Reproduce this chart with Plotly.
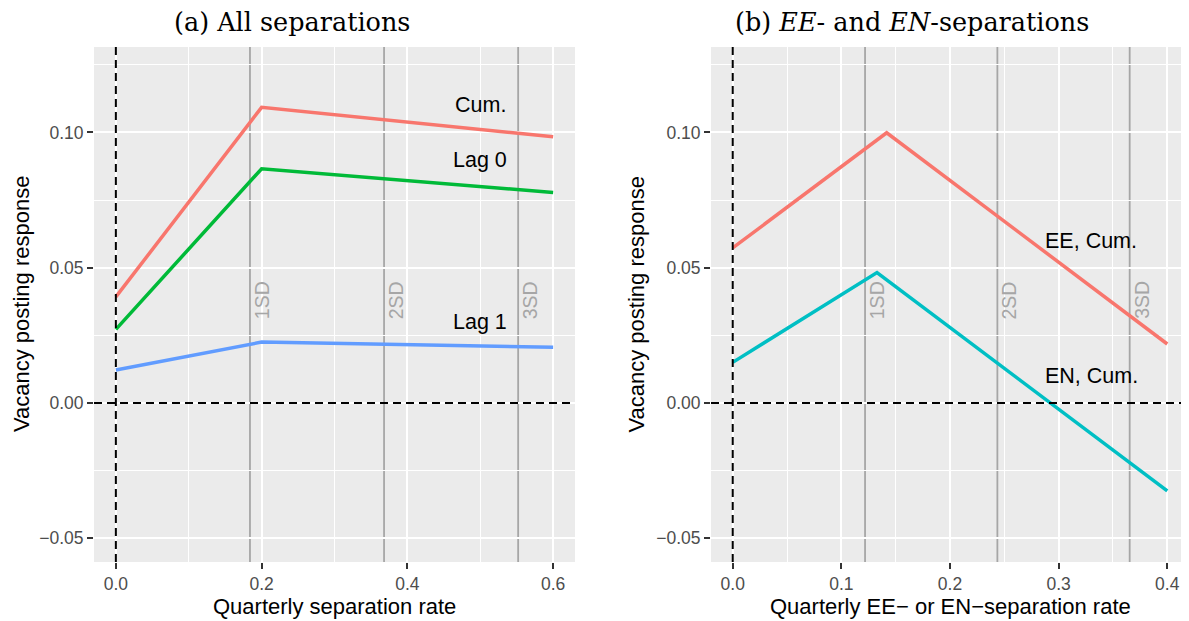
import plotly.graph_objects as go

# ---------------- data ----------------
sep_x = [0.0, 0.2, 0.6]
cum = [0.0392, 0.1093, 0.0984]
lag0 = [0.0272, 0.0866, 0.0778]
lag1 = [0.0122, 0.0225, 0.0206]

ee_x = [0.0, 0.1417, 0.4]
ee_cum = [0.0573, 0.0999, 0.0218]
en_x = [0.0, 0.1328, 0.4]
en_cum = [0.0150, 0.0482, -0.0325]

sd_all = [0.184, 0.368, 0.552]
sd_eeen = [0.1218, 0.2436, 0.3654]
sd_labels = ["1SD", "2SD", "3SD"]
sd_label_y = 0.038

labels_a = ["Cum.", "Lag 0", "Lag 1"]
labels_a_x = [0.5, 0.5, 0.5]
labels_a_y = [0.11, 0.09, 0.03]
labels_b = ["EE, Cum.", "EN, Cum."]
labels_b_x = [0.33, 0.33]
labels_b_y = [0.06, 0.01]

ref_zero = 0.0

x_ticks_a = [0.0, 0.2, 0.4, 0.6]
x_ticks_b = [0.0, 0.1, 0.2, 0.3, 0.4]
y_ticks = [-0.05, 0.0, 0.05, 0.10]
y_ticktext = ["\u22120.05", "0.00", "0.05", "0.10"]

titles = ["(a) All separations", "(b) <i>EE</i>- and <i>EN</i>-separations"]
x_titles = ["Quarterly separation rate", "Quarterly EE\u2212 or EN\u2212separation rate"]
y_title = "Vacancy posting response"

RED, GREEN, BLUE, CYAN = "#F8766D", "#00BA38", "#619CFF", "#00BFC4"
SD_GRAY = "#A6A6A6"
OFF = 8  # page body margin
W, H = 1189 - OFF, 621 - OFF
FONT = "Liberation Sans, Arial, sans-serif"

def px(v):
    return v - OFF

fig = go.Figure()

def add_line(x, y, color, xa, ya):
    fig.add_trace(go.Scatter(x=x, y=y, mode="lines", xaxis=xa, yaxis=ya,
                             line=dict(color=color, width=3.5), showlegend=False,
                             hoverinfo="skip"))

add_line(sep_x, cum, RED, "x", "y")
add_line(sep_x, lag0, GREEN, "x", "y")
add_line(sep_x, lag1, BLUE, "x", "y")
add_line(ee_x, ee_cum, RED, "x2", "y2")
add_line(en_x, en_cum, CYAN, "x2", "y2")

# SD vertical lines + labels
for sds, xr, yr in [(sd_all, "x", "y"), (sd_eeen, "x2", "y2")]:
    for v, lab in zip(sds, sd_labels):
        fig.add_shape(type="line", xref=xr, yref=yr + " domain", x0=v, x1=v, y0=0, y1=1,
                      line=dict(color=SD_GRAY, width=1.8), layer="below")
        fig.add_annotation(x=v, y=sd_label_y, xref=xr, yref=yr, text=lab, showarrow=False,
                           textangle=-90, xshift=12, font=dict(family=FONT, size=19.5, color=SD_GRAY))
    # dashed zero lines
    fig.add_shape(type="line", xref=xr, yref=yr + " domain", x0=ref_zero, x1=ref_zero, y0=0, y1=1,
                  line=dict(color="black", width=2, dash="8px,5px"), layer="above")
    fig.add_shape(type="line", xref=xr + " domain", yref=yr, x0=0, x1=1, y0=ref_zero, y1=ref_zero,
                  line=dict(color="black", width=2, dash="8px,5px"), layer="above")

for t, x, y in zip(labels_a, labels_a_x, labels_a_y):
    fig.add_annotation(x=x, y=y, xref="x", yref="y", text=t, showarrow=False,
                       font=dict(family=FONT, size=21.5, color="black"))
for t, x, y in zip(labels_b, labels_b_x, labels_b_y):
    fig.add_annotation(x=x, y=y, xref="x2", yref="y2", text=t, showarrow=False,
                       font=dict(family=FONT, size=21.5, color="black"))

# panel geometry (screen pixels -> figure pixels)
a_l, a_r = px(94), px(575)
b_l, b_r = px(711), px(1189)
p_t, p_b = px(47), px(562)

def ax_common():
    return dict(showline=False, zeroline=False, ticks="outside", ticklen=6, tickwidth=1.6,
                tickcolor="#333333", showgrid=True, gridcolor="white", gridwidth=2,
                tickfont=dict(family=FONT, size=17.5, color="#4D4D4D"), fixedrange=True)

ydom = [1 - p_b / H, 1 - p_t / H]
yr = [-0.0588, 0.1316]

fig.update_layout(
    width=W, height=H, margin=dict(l=0, r=0, t=0, b=0),
    paper_bgcolor="white", plot_bgcolor="#EBEBEB",
    xaxis=dict(domain=[a_l / W, a_r / W], range=[-0.03, 0.63], tickvals=x_ticks_a,
               ticktext=[f"{v:.1f}" for v in x_ticks_a], anchor="y",
               minor=dict(dtick=0.1, tick0=0, showgrid=True, gridcolor="white", gridwidth=1, ticks=""),
               **ax_common()),
    yaxis=dict(domain=ydom, range=yr, tickvals=y_ticks, ticktext=y_ticktext, anchor="x",
               minor=dict(dtick=0.025, tick0=0, showgrid=True, gridcolor="white", gridwidth=1, ticks=""),
               **ax_common()),
    xaxis2=dict(domain=[b_l / W, min(b_r / W, 1.0)], range=[-0.02, 0.42], tickvals=x_ticks_b,
                ticktext=[f"{v:.1f}" for v in x_ticks_b], anchor="y2",
                minor=dict(dtick=0.05, tick0=0, showgrid=True, gridcolor="white", gridwidth=1, ticks=""),
                **ax_common()),
    yaxis2=dict(domain=ydom, range=yr, tickvals=y_ticks, ticktext=y_ticktext, anchor="x2",
                minor=dict(dtick=0.025, tick0=0, showgrid=True, gridcolor="white", gridwidth=1, ticks=""),
                **ax_common()),
)

# titles
for t, cx in zip(titles, [291.5, 912]):
    fig.add_annotation(x=px(cx) / W, y=1 - px(22) / H, xref="paper", yref="paper", text=t, showarrow=False,
                       xanchor="center", yanchor="middle",
                       font=dict(family="DejaVu Serif, serif", size=25.5, color="black"))
# axis titles
for t, cx in zip(x_titles, [(a_l + a_r) / 2, (b_l + b_r) / 2]):
    fig.add_annotation(x=cx / W, y=1 - px(606) / H, xref="paper", yref="paper", text=t, showarrow=False,
                       xanchor="center", yanchor="middle",
                       font=dict(family=FONT, size=22, color="black"))
for cx in [21.5, 636]:
    fig.add_annotation(x=px(cx) / W, y=1 - ((p_t + p_b) / 2) / H, xref="paper", yref="paper", text=y_title,
                       showarrow=False, textangle=-90, xanchor="center", yanchor="middle",
                       font=dict(family=FONT, size=22, color="black"))

fig.write_html("out.html")
